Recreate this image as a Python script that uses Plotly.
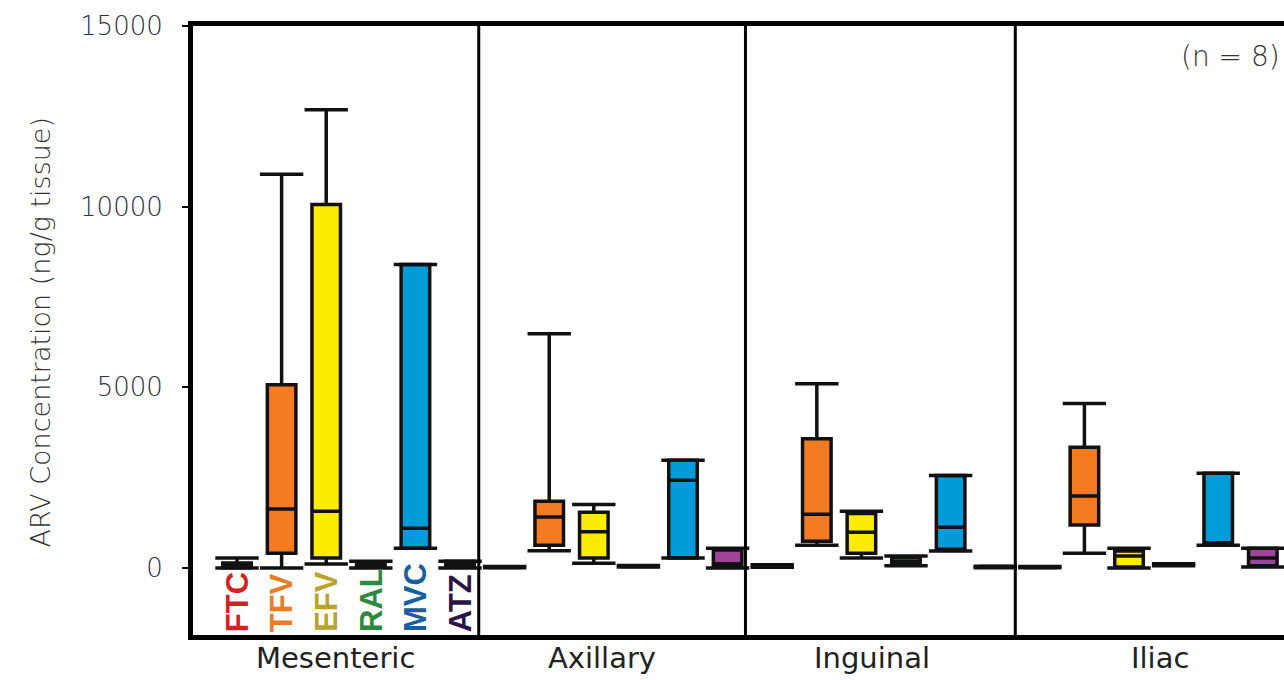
import plotly.graph_objects as go

# Lymph node sites and antiretroviral drugs
groups = ["Mesenteric", "Axillary", "Inguinal", "Iliac"]
drugs = ["FTC", "TFV", "EFV", "RAL", "MVC", "ATZ"]

# Box statistics (ng/g tissue), one value per site in the order of `groups`
lower_fence = {
    "FTC": [0, 10, 20, 10],
    "TFV": [0, 480, 630, 410],
    "EFV": [110, 130, 280, 0],
    "RAL": [0, 30, 60, 60],
    "MVC": [550, 280, 470, 630],
    "ATZ": [0, 0, 10, 30],
}
q1 = {
    "FTC": [10, 15, 40, 15],
    "TFV": [410, 630, 740, 1190],
    "EFV": [280, 280, 410, 30],
    "RAL": [30, 40, 110, 80],
    "MVC": [550, 280, 520, 660],
    "ATZ": [40, 40, 20, 60],
}
median = {
    "FTC": [60, 20, 60, 20],
    "TFV": [1630, 1410, 1490, 1990],
    "EFV": [1570, 1000, 990, 330],
    "RAL": [60, 50, 190, 100],
    "MVC": [1100, 2430, 1130, 700],
    "ATZ": [110, 120, 30, 280],
}
q3 = {
    "FTC": [140, 30, 80, 30],
    "TFV": [5070, 1850, 3580, 3340],
    "EFV": [10060, 1540, 1510, 470],
    "RAL": [100, 60, 300, 110],
    "MVC": [8400, 2980, 2560, 2620],
    "ATZ": [190, 500, 40, 550],
}
upper_fence = {
    "FTC": [280, 40, 90, 40],
    "TFV": [10900, 6480, 5100, 4550],
    "EFV": [12680, 1760, 1570, 550],
    "RAL": [190, 70, 330, 120],
    "MVC": [8400, 2980, 2560, 2620],
    "ATZ": [190, 550, 50, 550],
}

y_ticks = [0, 5000, 10000, 15000]
y_title = "ARV Concentration (ng/g tissue)"
n_label = "(n = 8)"

fill_colors = {
    "FTC": "#e21f26",
    "TFV": "#f47b20",
    "EFV": "#fdec00",
    "RAL": "#00a651",
    "MVC": "#009bd9",
    "ATZ": "#a0449a",
}
label_colors = {
    "FTC": "#d81e25",
    "TFV": "#ec7c22",
    "EFV": "#b9a42c",
    "RAL": "#2d8a3c",
    "MVC": "#17609f",
    "ATZ": "#2a1448",
}

n_drugs = len(drugs)
fig = go.Figure()

for d, drug in enumerate(drugs):
    xs = [g * n_drugs + d for g in range(len(groups))]
    fig.add_trace(go.Box(
        x=xs,
        q1=q1[drug], median=median[drug], q3=q3[drug],
        lowerfence=lower_fence[drug], upperfence=upper_fence[drug],
        orientation="v",
        width=0.64,
        whiskerwidth=0,
        fillcolor=fill_colors[drug],
        line=dict(color="#111111", width=3.5),
        boxpoints=False,
        hoverinfo="skip",
        showlegend=False,
    ))
    # whisker end caps
    fig.add_trace(go.Scatter(
        x=xs + xs,
        y=upper_fence[drug] + lower_fence[drug],
        mode="markers",
        marker=dict(symbol="line-ew", size=31,
                    line=dict(color="#111111", width=3.5)),
        hoverinfo="skip",
        showlegend=False,
    ))

# vertical separators between sites
for sep in [5.42, 11.4, 17.45]:
    fig.add_shape(type="line", xref="x", yref="paper",
                  x0=sep, x1=sep, y0=0, y1=1,
                  line=dict(color="black", width=3))

annotations = []
# drug names under the first site
for d, drug in enumerate(drugs):
    annotations.append(dict(
        x=d, y=-1830, xref="x", yref="y",
        text=f"<b>{drug}</b>", textangle=-90, showarrow=False,
        xanchor="center", yanchor="bottom", xshift=0,
        font=dict(family="Liberation Sans, Arial, sans-serif",
                  size=31, color=label_colors[drug]),
    ))
# site names
site_x = [2.2, 8.18, 14.24, 20.7]
for g, name in enumerate(groups):
    annotations.append(dict(
        x=site_x[g], y=-0.037, xref="x", yref="paper",
        text=name, showarrow=False, xanchor="center", yanchor="middle",
        font=dict(family="DejaVu Sans", size=29, color="#222222"),
    ))
annotations.append(dict(
    x=-0.14, y=0.497, xref="paper", yref="paper",
    text=y_title, textangle=-90, showarrow=False,
    xanchor="center", yanchor="middle",
    font=dict(family="DejaVu Sans", size=27, color="#333333", weight=300),
))
annotations.append(dict(
    x=1.0, y=0.95, xref="paper", yref="paper",
    text=n_label, showarrow=False, xanchor="right", yanchor="middle",
    xshift=-2,
    font=dict(family="DejaVu Sans", size=28, color="#333333", weight=300),
))

fig.update_layout(
    width=1284, height=680,
    margin=dict(l=193, r=0, t=26, b=45),
    paper_bgcolor="white", plot_bgcolor="white",
    annotations=annotations,
    xaxis=dict(
        range=[-0.987, 23.475],
        showgrid=False, zeroline=False, showticklabels=False, ticks="",
        showline=True, linecolor="black", linewidth=5, mirror=True,
    ),
    yaxis=dict(
        range=[-1854, 15000],
        tickvals=y_ticks, ticktext=[str(v) for v in y_ticks],
        showgrid=False, zeroline=False,
        ticks="outside", ticklen=6, tickwidth=2, tickcolor="black",
        showline=True, linecolor="black", linewidth=5, mirror=False,
        ticklabelstandoff=14,
        tickfont=dict(family="DejaVu Sans", size=26, color="#2e2e44", weight=300),
    ),
)

fig.write_html("out.html")
